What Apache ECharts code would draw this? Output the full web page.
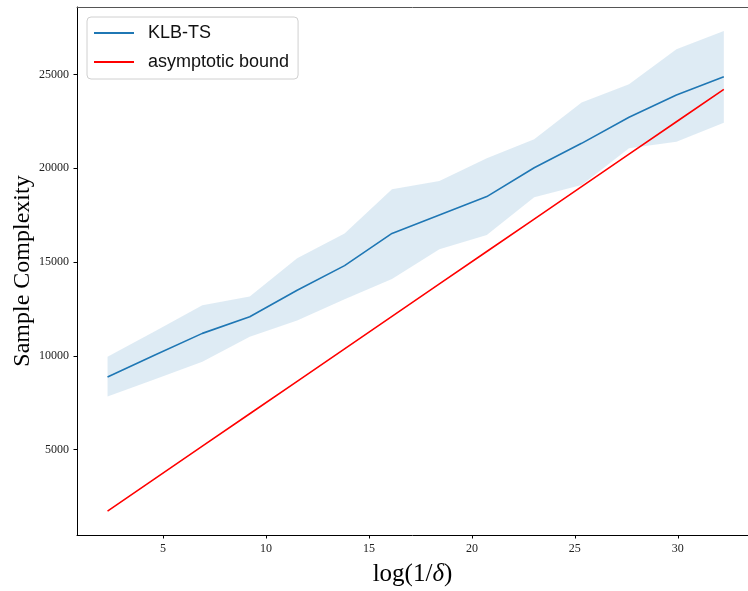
<!DOCTYPE html>
<html>
<head>
<meta charset="utf-8">
<script src="https://cdn.jsdelivr.net/npm/echarts@6/dist/echarts.min.js"></script>
<style>
html,body{margin:0;padding:0;background:#fff;}
#chart{width:748px;height:591px;}
</style>
</head>
<body>
<div id="chart"></div>
<script>
// log(1/delta) values
const xVals = [2.303, 4.605, 6.908, 9.210, 11.513, 13.816, 16.118, 18.421, 20.723, 23.026, 25.328, 27.631, 29.934, 32.236];
// KLB-TS mean sample complexity
const klbMean = [8875, 10050, 11200, 12090, 13500, 14810, 16530, 17510, 18490, 20030, 21330, 22720, 23910, 24880];
// KLB-TS band upper / lower
const klbUpper = [9960, 11320, 12700, 13160, 15200, 16530, 18880, 19320, 20530, 21550, 23500, 24480, 26340, 27320];
const klbLower = [7830, 8750, 9690, 11020, 11880, 13020, 14100, 15680, 16450, 18450, 19110, 21070, 21420, 22430];
// asymptotic bound
const boundVals = [1730, 3459, 5188, 6917, 8646, 10375, 12105, 13834, 15563, 17292, 19021, 20751, 22480, 24209];
// tick labels
const xTicks = [5, 10, 15, 20, 25, 30];
const yTicks = [5000, 10000, 15000, 20000, 25000];

const serif = "'Liberation Serif', 'DejaVu Serif', serif";
const sans = "'Liberation Sans', 'DejaVu Sans', sans-serif";

const meanData = xVals.map((x, i) => [x, klbMean[i]]);
const boundData = xVals.map((x, i) => [x, boundVals[i]]);
const bandData = xVals.map((x, i) => [x, klbLower[i], klbUpper[i]]);

const chart = echarts.init(document.getElementById('chart'), null, {renderer: 'canvas'});
chart.setOption({
  animation: false,
  backgroundColor: '#ffffff',
  grid: {left: 77, top: 7, right: 0, bottom: 56, containLabel: false, outerBoundsMode: 'none'},
  legend: {
    orient: 'vertical',
    left: 87, top: 17,
    data: ['KLB-TS', 'asymptotic bound'],
    icon: 'rect',
    itemWidth: 40, itemHeight: 2,
    itemGap: 9,
    padding: [6, 9, 7, 7],
    backgroundColor: 'rgba(255,255,255,0.85)',
    borderColor: '#d0d0d0', borderWidth: 1, borderRadius: 4,
    textStyle: {fontFamily: sans, fontSize: 18, color: '#111', padding: [0, 0, 0, 9], lineHeight: 20}
  },
  xAxis: [{
    type: 'value', min: 0.82, max: 33.41,
    name: '{n|log(1/}{i|δ}{n|)}',
    nameLocation: 'middle', nameGap: 27,
    nameTextStyle: {rich: {
      n: {fontFamily: serif, fontSize: 25, color: '#000'},
      i: {fontFamily: serif, fontSize: 25, fontStyle: 'italic', color: '#000'}
    }},
    splitLine: {show: false},
    axisLine: {show: true, onZero: false, lineStyle: {color: '#000', width: 1}},
    axisTick: {show: true, length: 3.5, inside: false, customValues: xTicks, lineStyle: {color: '#000'}},
    axisLabel: {customValues: xTicks, fontFamily: serif, fontSize: 12, color: '#222', margin: 8,
      formatter: v => String(v)}
  }, {
    type: 'value', position: 'top', min: 0.82, max: 33.41,
    splitLine: {show: false},
    axisLine: {show: true, onZero: false, lineStyle: {color: '#555', width: 1}},
    axisTick: {show: false}, axisLabel: {show: false}
  }],
  yAxis: {
    type: 'value', min: 453, max: 28597,
    name: 'Sample Complexity',
    nameLocation: 'middle', nameGap: 42, nameMoveOverlap: false,
    nameTextStyle: {fontFamily: serif, fontSize: 24, color: '#000'},
    splitLine: {show: false},
    axisLine: {show: true, onZero: false, lineStyle: {color: '#000', width: 1}},
    axisTick: {show: true, length: 3.5, customValues: yTicks, lineStyle: {color: '#000'}},
    axisLabel: {customValues: yTicks, fontFamily: serif, fontSize: 12, color: '#222', margin: 8,
      formatter: v => String(v)}
  },
  series: [{
    name: 'band',
    type: 'custom',
    silent: true,
    clip: true,
    z: 1,
    data: [[0]],
    renderItem: function (params, api) {
      const up = bandData.map(d => api.coord([d[0], d[2]]));
      const lo = bandData.map(d => api.coord([d[0], d[1]])).reverse();
      return {
        type: 'polygon',
        shape: {points: up.concat(lo)},
        style: {fill: 'rgba(31,119,180,0.15)', stroke: null}
      };
    }
  }, {
    name: 'KLB-TS',
    type: 'line',
    data: meanData,
    showSymbol: false,
    z: 3,
    color: '#1f77b4',
    lineStyle: {color: '#1f77b4', width: 1.6}
  }, {
    name: 'asymptotic bound',
    type: 'line',
    data: boundData,
    showSymbol: false,
    z: 3,
    color: '#ff0000',
    lineStyle: {color: '#ff0000', width: 1.6}
  }]
});
</script>
</body>
</html>
